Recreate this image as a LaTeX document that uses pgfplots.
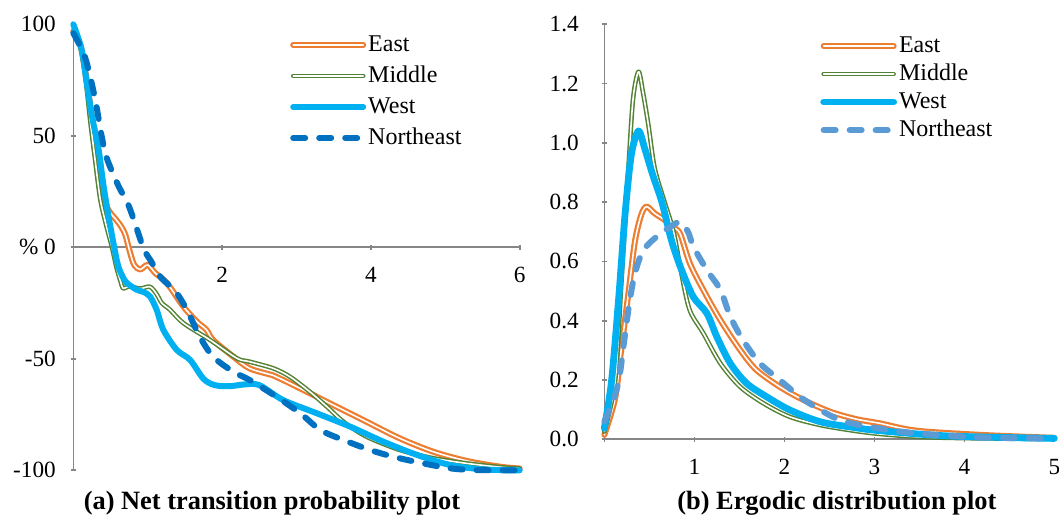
\documentclass[border=0pt]{standalone}
\usepackage{fontspec}
\setmainfont{Liberation Serif}
\usepackage{pgfplots}
\pgfplotsset{compat=1.18}

\definecolor{cEast}{HTML}{ED7D31}
\definecolor{cMid}{HTML}{548235}
\definecolor{cWest}{HTML}{00B0F0}
\definecolor{cNEa}{HTML}{0070C0}
\definecolor{cNEb}{HTML}{5B9BD5}
\definecolor{cAxis}{HTML}{868686}

\pgfplotsset{
  panel/.style={
    scale only axis, clip=false,
    tick style={cAxis, line width=0.8pt},
    tick align=outside, major tick length=2.5pt,
    hide obscured x ticks=false, hide obscured y ticks=false,
    tick label style={font=\rmfamily\fontsize{11.6}{13}\selectfont, text=black},
    xticklabel style={yshift=-5pt},
    /pgf/number format/assume math mode=true,
    legend cell align=left,
    legend image code/.code={\draw[##1] (0pt,0pt) -- (35pt,0pt);},
    legend style={draw=none, fill=none, inner sep=0pt,
      font=\rmfamily\fontsize{12}{14}\selectfont,
      nodes={inner sep=1pt, text height=9pt, text depth=2.5pt},
      /tikz/every odd column/.append style={column sep=0pt}},
  },
  plain axis/.style={axis line style={cAxis, line width=0.8pt, -}},
  east/.style={cEast, line width=1.1pt, double=white, double distance=0.8pt,
    line cap=round, line join=round, smooth, tension=0.5},
  middle/.style={cMid, line width=0.75pt, double=white, double distance=0.8pt,
    line cap=round, line join=round, smooth, tension=0.5},
}

\begin{document}
\begin{tikzpicture}
\useasboundingbox (0,0) rectangle (529.5pt,258.5pt);

% (a) net transition probability
\begin{axis}[panel, at={(36.65pt,23.35pt)}, anchor=south west,
  width=223.2pt, height=223pt,
  xmin=0, xmax=6, ymin=-100, ymax=100,
  axis x line=middle, axis y line=left, plain axis,
  xtick={0,2,4,6}, xticklabels={,2,4,6},
  ytick={-100,-50,0,50,100}, yticklabels={-100,-50,\% 0,50,100},
  yticklabel style={xshift=-4pt},
  legend style={at={(0.485,0.985)}, anchor=north west, row sep=2pt},
]
\addplot[east] coordinates {
  (0,97) (0.1,90) (0.18,75) (0.25,58) (0.33,38) (0.42,21) (0.49,15.8)
  (0.56,13) (0.64,9.5) (0.70,5.5) (0.76,-2) (0.82,-8) (0.9,-10) (0.96,-8.5)
  (1.01,-8) (1.1,-11.5) (1.26,-16.1) (1.48,-26.6) (1.66,-33.3) (1.79,-37)
  (1.88,-41.6) (2.15,-49) (2.37,-54.3) (2.69,-57.5) (2.82,-59.5) (3.14,-64.8)
  (3.45,-70) (3.94,-78.2) (4.39,-85.7) (4.84,-91.7) (5.29,-95.8) (5.74,-98.4)
  (6,-99.2)
};
\addlegendentry{East}
\addplot[middle] coordinates {
  (0,96) (0.1,89) (0.17,74) (0.23,56) (0.29,40) (0.36,22) (0.43,11.5)
  (0.52,0) (0.58,-9) (0.63,-14.7) (0.67,-18.4) (0.75,-17.5) (0.9,-18.5)
  (1.03,-17.7) (1.12,-21) (1.19,-25) (1.3,-28) (1.48,-34) (1.84,-41.6)
  (2.2,-49.8) (2.37,-51.3) (2.69,-54.3) (2.91,-58) (3.18,-64.8) (3.41,-71.5)
  (3.63,-78.2) (3.94,-84.9) (4.39,-90.9) (4.84,-94.6) (5.29,-96.9)
  (5.74,-98.6) (6,-99.2)
};
\addlegendentry{Middle}
\addplot[cWest, line width=3pt, line cap=round, line join=round, smooth, tension=0.5] coordinates {
  (0,100) (0.11,89) (0.18,74) (0.25,59) (0.34,44) (0.40,29) (0.47,14.5)
  (0.55,0) (0.6,-8) (0.66,-13) (0.72,-16) (0.85,-19) (0.94,-20) (1.03,-22)
  (1.12,-28) (1.21,-37) (1.39,-46) (1.57,-50.5) (1.75,-59) (1.9,-61.8)
  (2.1,-62.3) (2.3,-61.5) (2.5,-61.8) (2.82,-68.5) (3.27,-74.4) (3.72,-80.4)
  (4.17,-87.2) (4.62,-93.1) (5.06,-97.6) (5.51,-99.6) (6,-100)
};
\addlegendentry{West}
\addplot[cNEa, line width=3pt, line cap=round, line join=round,
  dash pattern=on 6pt off 7pt, smooth, tension=0.5] coordinates {
  (0,96) (0.16,85) (0.29,67) (0.38,50) (0.45,40) (0.60,28) (0.74,19)
  (0.85,8.6) (0.95,-1) (1.05,-6.5) (1.17,-13.2) (1.39,-20.6) (1.55,-29.6)
  (1.70,-40.1) (1.88,-49.1) (2.15,-55.8) (2.37,-59.5) (2.73,-67) (3.05,-74.4)
  (3.32,-81.9) (3.63,-86.4) (3.99,-90.9) (4.30,-93.9) (4.66,-96.6)
  (5.06,-99.1) (5.4,-99.9) (6,-100)
};
\addlegendentry{Northeast}
\end{axis}

% (b) ergodic distribution
\begin{axis}[panel, at={(302.15pt,38.85pt)}, anchor=south west,
  width=225pt, height=207.5pt,
  xmin=0, xmax=5, ymin=0, ymax=1.4,
  axis x line=bottom, axis y line=left, plain axis,
  xtick={0,1,2,3,4,5}, xticklabels={,1,2,3,4,5},
  ytick={0,0.2,0.4,0.6,0.8,1.0,1.2,1.4},
  yticklabels={0.0,0.2,0.4,0.6,0.8,1.0,1.2,1.4},
  yticklabel style={xshift=-8pt},
  legend style={at={(0.479,0.981)}, anchor=north west, row sep=0.5pt},
]
\addplot[east] coordinates {
  (0,0.015) (0.12,0.138) (0.19,0.307) (0.27,0.498) (0.34,0.667) (0.41,0.757)
  (0.47,0.785) (0.56,0.762) (0.67,0.74) (0.76,0.715) (0.84,0.695) (0.95,0.594)
  (1.1,0.504) (1.29,0.402) (1.51,0.301) (1.69,0.234) (1.95,0.177)
  (2.21,0.133) (2.51,0.093) (2.80,0.068) (3.06,0.054) (3.47,0.029)
  (4.21,0.0145) (5,0.005)
};
\addlegendentry{East}
\addplot[middle] coordinates {
  (0,0.026) (0.12,0.195) (0.19,0.53) (0.27,0.925) (0.32,1.15) (0.38,1.24)
  (0.43,1.17) (0.49,1.06) (0.56,0.914) (0.67,0.80) (0.77,0.70) (0.86,0.554)
  (0.95,0.435) (1.1,0.358) (1.29,0.256) (1.51,0.177) (1.77,0.121)
  (2.06,0.076) (2.40,0.048) (2.77,0.029) (3.06,0.018) (3.5,0.008) (4,0.004)
  (5,0.001)
};
\addlegendentry{Middle}
\addplot[cWest, line width=3.4pt, line cap=round, line join=round, smooth, tension=0.5] coordinates {
  (0,0.037) (0.08,0.195) (0.16,0.476) (0.23,0.757) (0.30,0.96) (0.38,1.04)
  (0.45,0.98) (0.54,0.89) (0.64,0.80) (0.75,0.667) (0.86,0.57) (0.99,0.48)
  (1.14,0.425) (1.25,0.346) (1.40,0.256) (1.58,0.189) (1.80,0.144)
  (2.06,0.099) (2.40,0.059) (2.77,0.04) (3.06,0.029) (3.84,0.011) (5,0.003)
};
\addlegendentry{West}
\addplot[cNEb, line width=3pt, line cap=round, line join=round,
  dash pattern=on 6pt off 7pt, smooth, tension=0.5] coordinates {
  (0,0.06) (0.08,0.116) (0.16,0.195) (0.21,0.307) (0.27,0.442) (0.32,0.532)
  (0.38,0.60) (0.45,0.644) (0.56,0.678) (0.71,0.712) (0.84,0.733) (0.93,0.70)
  (0.99,0.65) (1.14,0.571) (1.29,0.504) (1.40,0.414) (1.54,0.335)
  (1.73,0.256) (1.95,0.200) (2.17,0.144) (2.40,0.099) (2.62,0.065)
  (2.92,0.043) (3.47,0.020) (4.21,0.006) (5,0.003)
};
\addlegendentry{Northeast}
\end{axis}

\node[font=\rmfamily\bfseries\fontsize{13.2}{15}\selectfont] at (136pt,7pt)
  {(a) Net transition probability plot};
\node[font=\rmfamily\bfseries\fontsize{13.2}{15}\selectfont] at (418.4pt,7pt)
  {(b) Ergodic distribution plot};
\end{tikzpicture}
\end{document}
